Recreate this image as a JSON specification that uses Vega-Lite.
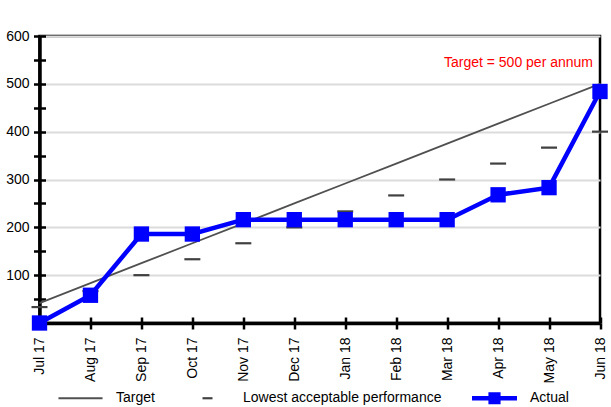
{
  "$schema": "https://vega.github.io/schema/vega-lite/v6.json",
  "width": 560.5,
  "height": 287,
  "autosize": {"type": "none"},
  "padding": {"left": 39.5, "top": 36, "right": 11, "bottom": 84},
  "config": {
    "font": "Liberation Sans",
    "view": {"stroke": "black", "strokeWidth": 2.5},
    "axis": {"labelFont": "Liberation Sans", "labelFontSize": 14, "labelColor": "black", "title": null, "domainColor": "black", "tickColor": "black"},
    "legend": {"labelFont": "Liberation Sans", "labelFontSize": 14, "labelColor": "black"}
  },
  "datasets": {
    "months": [
      {"month": "Jul 17", "target": 41.7, "lowest": 33.3, "actual": 0},
      {"month": "Aug 17", "target": 83.3, "lowest": 66.7, "actual": 58},
      {"month": "Sep 17", "target": 125, "lowest": 100, "actual": 186},
      {"month": "Oct 17", "target": 166.7, "lowest": 133.3, "actual": 186},
      {"month": "Nov 17", "target": 208.3, "lowest": 166.7, "actual": 216},
      {"month": "Dec 17", "target": 250, "lowest": 200, "actual": 216},
      {"month": "Jan 18", "target": 291.7, "lowest": 233.3, "actual": 216},
      {"month": "Feb 18", "target": 333.3, "lowest": 266.7, "actual": 216},
      {"month": "Mar 18", "target": 375, "lowest": 300, "actual": 216},
      {"month": "Apr 18", "target": 416.7, "lowest": 333.3, "actual": 268},
      {"month": "May 18", "target": 458.3, "lowest": 366.7, "actual": 283},
      {"month": "Jun 18", "target": 500, "lowest": 400, "actual": 484}
    ],
    "note": [
      {"month": "Jun 18", "value": 544, "label": "Target = 500 per annum"}
    ],
    "series": [
      {"series": "Target"},
      {"series": "Lowest acceptable performance"},
      {"series": "Actual"}
    ]
  },
  "resolve": {"axis": {"x": "independent", "y": "independent"}},
  "layer": [
    {
      "data": {"name": "months"},
      "mark": {"type": "line", "color": "#505050", "strokeWidth": 1.8},
      "encoding": {
        "x": {
          "field": "month", "type": "ordinal",
          "scale": {"type": "point", "padding": 0, "domain": ["Jul 17","Aug 17","Sep 17","Oct 17","Nov 17","Dec 17","Jan 18","Feb 18","Mar 18","Apr 18","May 18","Jun 18"]},
          "axis": {"orient": "bottom", "labelAngle": 270, "grid": false, "tickSize": 6, "tickWidth": 2.5, "domainWidth": 3.5, "labelPadding": 8}
        },
        "y": {
          "field": "target", "type": "quantitative",
          "scale": {"domain": [0, 600], "nice": false, "zero": true},
          "axis": {
            "orient": "left",
            "values": [0,50,100,150,200,250,300,350,400,450,500,550,600],
            "labelExpr": "datum.value % 100 === 0 && datum.value > 0 ? datum.label : ''",
            "grid": true, "gridColor": "#dcdcdc", "gridWidth": 2,
            "gridOpacity": {"condition": {"test": "datum.value % 100 !== 0", "value": 0}, "value": 1},
            "tickSize": 6, "tickWidth": 2.5, "domainWidth": 3.5, "labelPadding": 4.5
          }
        }
      }
    },
    {
      "data": {"name": "months"},
      "mark": {"type": "tick", "orient": "horizontal", "color": "#404040", "size": 16, "thickness": 2.2, "opacity": 1},
      "encoding": {
        "x": {
          "field": "month", "type": "ordinal",
          "axis": {"orient": "bottom", "labels": false, "domain": false, "grid": false, "tickSize": -6, "tickWidth": 2.5}
        },
        "y": {
          "field": "lowest", "type": "quantitative",
          "axis": {"orient": "left", "values": [0,50,100,150,200,250,300,350,400,450,500,550,600], "labels": false, "domain": false, "grid": false, "tickSize": -6, "tickWidth": 2.5}
        }
      }
    },
    {
      "data": {"name": "months"},
      "mark": {"type": "line", "color": "#0000ff", "strokeWidth": 4.5},
      "encoding": {
        "x": {"field": "month", "type": "ordinal", "axis": null},
        "y": {"field": "actual", "type": "quantitative", "axis": null}
      }
    },
    {
      "data": {"name": "months"},
      "mark": {"type": "point", "shape": "square", "filled": true, "size": 235, "color": "#0000ff", "opacity": 1},
      "encoding": {
        "x": {"field": "month", "type": "ordinal", "axis": null},
        "y": {"field": "actual", "type": "quantitative", "axis": null}
      }
    },
    {
      "data": {"name": "note"},
      "mark": {"type": "text", "align": "right", "baseline": "middle", "dx": -7, "color": "#ff0000", "fontSize": 14, "font": "Liberation Sans"},
      "encoding": {
        "x": {"field": "month", "type": "ordinal", "axis": null},
        "y": {"field": "value", "type": "quantitative", "axis": null},
        "text": {"field": "label"}
      }
    },
    {
      "data": {"name": "series"},
      "mark": {"type": "point", "filled": true, "opacity": 0},
      "encoding": {
        "color": {
          "field": "series", "type": "nominal",
          "scale": {"domain": ["Target", "Lowest acceptable performance", "Actual"], "range": ["#505050", "#404040", "#0000ff"]},
          "legend": {"title": null, "orient": "none", "direction": "horizontal", "legendX": 18.5, "legendY": 339.5, "padding": 0, "symbolSize": 2025, "symbolOpacity": 1, "symbolStrokeWidth": 0, "labelOffset": 13, "columnPadding": 30, "labelLimit": 400}
        },
        "shape": {
          "field": "series", "type": "nominal",
          "scale": {"domain": ["Target", "Lowest acceptable performance", "Actual"], "range": ["M-0.98,-0.04H0.98V0.04H-0.98Z", "M-0.222,-0.048H0.222V0.048H-0.222Z", "M-1,-0.1H1V0.1H-1ZM-0.27,-0.27H0.27V0.27H-0.27Z"]},
          "legend": {"title": null, "orient": "none", "direction": "horizontal", "legendX": 18.5, "legendY": 339.5, "padding": 0, "symbolSize": 2025, "symbolOpacity": 1, "symbolStrokeWidth": 0, "labelOffset": 13, "columnPadding": 30, "labelLimit": 400}
        }
      }
    }
  ]
}
